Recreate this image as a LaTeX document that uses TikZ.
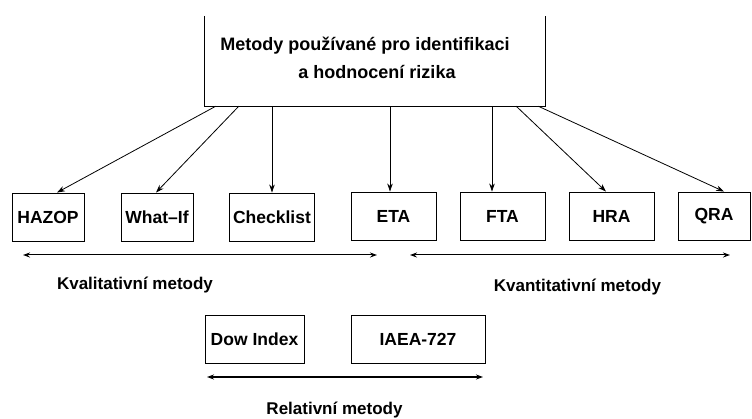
\documentclass[tikz,border=0pt]{standalone}
\usepackage{fontspec}
\setmainfont{Liberation Sans}
\usetikzlibrary{arrows.meta}
\begin{document}
\begin{tikzpicture}[x=1pt,y=-1pt,
  box/.style={draw,line width=0.9pt,minimum height=48pt,inner sep=0pt,
    font=\fontsize{17.5}{20}\selectfont\bfseries},
  lbl/.style={font=\fontsize{17}{20}\selectfont\bfseries,inner sep=0pt},
  ttl/.style={font=\fontsize{18}{21}\selectfont\bfseries,inner sep=0pt},
  conn/.style={line width=0.8pt,-{Stealth[length=8pt,width=5.5pt]}},
  span/.style={line width=1pt,{Stealth[length=7pt,width=5pt]}-{Stealth[length=7pt,width=5pt]}}]
\useasboundingbox (0,0) rectangle (752,419);
% top box (open at the top)
\node[minimum width=340pt,minimum height=90pt,inner sep=0pt] (top) at (375,61) {};
\draw[line width=0.9pt] (top.north west) -- (top.south west) -- (top.south east) -- (top.north east);
\node[ttl] (t1) at (365,46) {Metody používané pro identifikaci};
\node[ttl] (t2) at (377,72) {a hodnocení rizika};
% method boxes
\node[box,minimum width=72pt] (hazop) at (48,217) {HAZOP};
\node[box,minimum width=72pt] (whatif) at (157,217) {What–If};
\node[box,minimum width=85pt] (check) at (272,217) {Checklist};
\node[box,minimum width=85pt] (eta) at (393.5,216) {ETA};
\node[box,minimum width=85pt] (fta) at (502.5,216) {FTA};
\node[box,minimum width=85pt] (hra) at (611.5,216) {HRA};
\node[box,minimum width=72pt] (qra) at (714,216) {QRA};
% arrows from top box
\draw[conn] ([xshift=11pt]top.south west) -- ([xshift=9pt]hazop.north);
\draw[conn] ([xshift=34pt]top.south west) -- ([xshift=-1pt]whatif.north);
\draw[conn] (check.north |- top.south) -- (check.north);
\draw[conn] ([xshift=-3.5pt]eta.north |- top.south) -- ([xshift=-3.5pt]eta.north);
\draw[conn] ([xshift=-10.5pt]fta.north |- top.south) -- ([xshift=-10.5pt]fta.north);
\draw[conn] ([xshift=-29pt]top.south east) -- ([xshift=-5.5pt]hra.north);
\draw[conn] ([xshift=-7pt]top.south east) -- ([xshift=10pt]qra.north);
% group spans
\coordinate (k1) at (23,255);
\coordinate (k2) at (377,255);
\coordinate (q1) at (410,255);
\coordinate (q2) at (730,255);
\draw[span] (k1) -- (k2);
\draw[span] (q1) -- (q2);
\node[lbl] (kval) at (135,285) {Kvalitativní metody};
\node[lbl] (kvan) at (577.5,287) {Kvantitativní metody};
% relative methods
\node[box,minimum width=99pt] (dow) at (254.5,339) {Dow Index};
\node[box,minimum width=134pt] (iaea) at (418,339) {IAEA-727};
\coordinate (r1) at (207,377);
\coordinate (r2) at (483,377);
\draw[span,line width=1.3pt] (r1) -- (r2);
\node[lbl] (rel) at (334.5,410) {Relativní metody};
\end{tikzpicture}
\end{document}
